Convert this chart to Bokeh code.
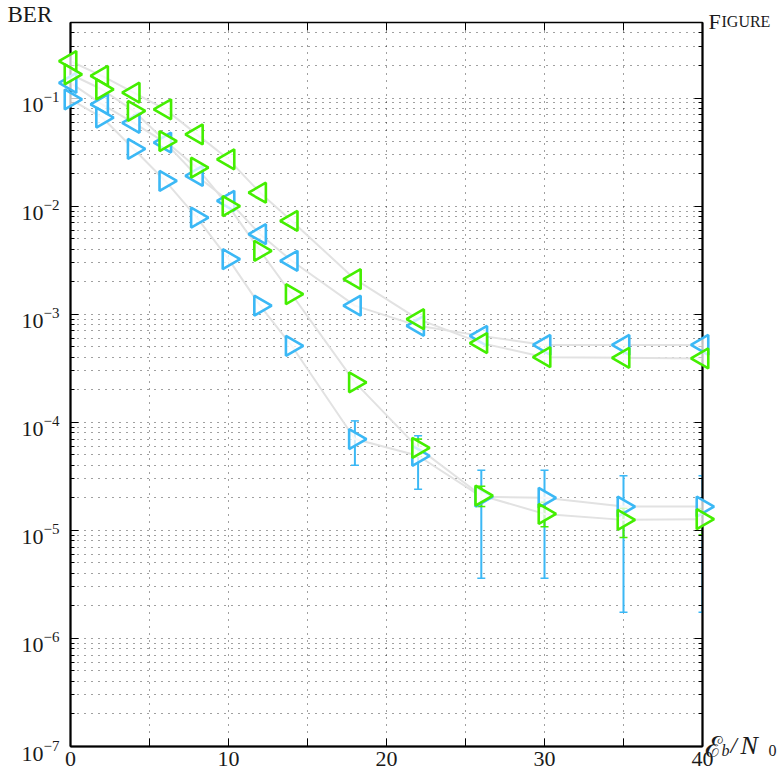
import numpy as np
from bokeh.plotting import figure
from bokeh.core.properties import value
from bokeh.models import (FixedTicker, CustomJSTickFormatter, LogAxis, LinearAxis,
                          Whisker, TeeHead, ColumnDataSource, Range1d)
from bokeh.embed import file_html
from bokeh.resources import INLINE

# ---------------- data ----------------
snr = [0, 2, 4, 6, 8, 10, 12, 14, 18, 22, 26, 30, 35, 40]
ber_green_left = [0.22, 0.16, 0.112, 0.0786, 0.0461, 0.0271, 0.0133, 0.0073, 0.00211,
                  9.0e-4, 5.4e-4, 4.0e-4, 3.95e-4, 3.9e-4]
ber_blue_left = [0.138, 0.0875, 0.059, 0.0387, 0.019, 0.0112, 0.0055, 0.00312, 0.0012,
                 7.8e-4, 6.3e-4, 5.2e-4, 5.2e-4, 5.2e-4]
ber_green_right = [0.166, 0.12, 0.076, 0.040, 0.0227, 0.0100, 0.00386, 0.00153, 2.34e-4,
                   5.8e-5, 2.1e-5, 1.42e-5, 1.25e-5, 1.27e-5]
ber_blue_right = [0.097, 0.066, 0.0338, 0.0171, 0.00783, 0.00323, 0.0012, 0.00051, 7.0e-5,
                  4.9e-5, 2.05e-5, 2.0e-5, 1.66e-5, 1.66e-5]

err_blue_x = [18, 22, 26, 30, 35, 40]
err_blue_lower = [4.0e-5, 2.4e-5, 3.6e-6, 3.6e-6, 1.75e-6, 1.75e-6]
err_blue_upper = [1.03e-4, 7.5e-5, 3.6e-5, 3.6e-5, 3.2e-5, 3.2e-5]

err_green_x = [22, 26, 30, 35, 40]
err_green_lower = [4.8e-5, 1.66e-5, 1.08e-5, 8.6e-6, 9.1e-6]
err_green_upper = [7.0e-5, 2.56e-5, 1.82e-5, 1.6e-5, 1.6e-5]

x_ticks = [0, 5, 10, 15, 20, 25, 30, 35, 40]
y_ticks = [1e-7, 1e-6, 1e-5, 1e-4, 1e-3, 1e-2, 1e-1]
y_exponents = ["\u22127", "\u22126", "\u22125", "\u22124", "\u22123", "\u22122", "\u22121"]
y_minor = [m * d for d in y_ticks for m in range(2, 10)]

X_MIN, X_MAX = 0, 40
Y_MIN, Y_MAX = 1e-7, 0.5

GREEN = "#44ee00"
BLUE = "#3bb8f5"
LINE = "#e2e2e2"
FONT = "Liberation Serif"
TXT = "#1a1a1a"

p = figure(width=779, height=776, x_range=Range1d(X_MIN, X_MAX), y_range=Range1d(Y_MIN, Y_MAX),
           y_axis_type="log", output_backend="svg", toolbar_location=None,
           min_border_left=70, min_border_right=77, min_border_top=22, min_border_bottom=30)
p.outline_line_color = "black"
p.outline_line_width = 1.5

xt = FixedTicker(ticks=x_ticks)
yt = FixedTicker(ticks=y_ticks, minor_ticks=y_minor)

xfmt = CustomJSTickFormatter(code="return (Math.round(tick) % 10 == 0) ? tick.toFixed(0) : '';")
blank = CustomJSTickFormatter(code="return '';")

xa = p.xaxis[0]
xa.ticker = xt
xa.formatter = xfmt
ya = p.yaxis[0]
ya.ticker = yt
ya.formatter = blank
for ax in (xa, ya):
    ax.axis_line_width = 2
    ax.axis_line_color = "black"
    ax.major_tick_in = 8
    ax.major_tick_out = 0
    ax.minor_tick_in = 4
    ax.minor_tick_out = 0
    ax.major_tick_line_color = "black"
    ax.minor_tick_line_color = "black"
    ax.major_label_text_font = FONT
    ax.major_label_text_font_size = "22px"
    ax.major_label_text_color = TXT
    ax.major_label_standoff = 5
xa.minor_tick_line_color = None
ya.major_label_text_font_size = "1px"

top = LinearAxis(ticker=xt, formatter=blank, major_tick_in=8, major_tick_out=0,
                 minor_tick_line_color=None, axis_line_color="black",
                 major_label_text_font_size="1px")
right = LogAxis(ticker=yt, formatter=blank, major_tick_in=8, major_tick_out=0,
                minor_tick_in=4, minor_tick_out=0, axis_line_color="black", axis_line_width=2,
                major_label_text_font_size="1px")
p.add_layout(top, "above")
p.add_layout(right, "right")

p.xgrid.ticker = xt
p.ygrid.ticker = yt
for g in (p.xgrid[0], p.ygrid[0]):
    g.grid_line_color = "black"
    g.grid_line_alpha = 0.75
    g.grid_line_dash = "1 6"
    g.grid_line_width = 1
p.ygrid[0].minor_grid_line_color = "black"
p.ygrid[0].minor_grid_line_alpha = 0.75
p.ygrid[0].minor_grid_line_dash = "1 6"

src = ColumnDataSource(dict(x=snr, gl=ber_green_left, bl=ber_blue_left,
                            gr=ber_green_right, br=ber_blue_right))
for col in ("bl", "br", "gl", "gr"):
    p.line("x", col, source=src, line_color=LINE, line_width=2)

eb = ColumnDataSource(dict(x=err_blue_x, lo=err_blue_lower, hi=err_blue_upper))
eg = ColumnDataSource(dict(x=err_green_x, lo=err_green_lower, hi=err_green_upper))
for s, c in ((eb, BLUE), (eg, GREEN)):
    w = Whisker(source=s, base="x", lower="lo", upper="hi", dimension="height",
                line_color=c, line_width=2,
                lower_head=TeeHead(size=8, line_color=c, line_width=1.5),
                upper_head=TeeHead(size=8, line_color=c, line_width=1.5))
    p.add_layout(w)

for col, c, ang in (("bl", BLUE, np.pi / 2), ("br", BLUE, -np.pi / 2),
                    ("gl", GREEN, np.pi / 2), ("gr", GREEN, -np.pi / 2)):
    r = p.scatter("x", col, source=src, marker="triangle", size=20, angle=ang,
                  line_color=c, line_width=2.6, fill_color="white", fill_alpha=0.75)
    r.level = "overlay"

# y tick labels: "10" with raised exponent
n = len(y_ticks)
r = p.text(x=[X_MIN] * n, y=y_ticks, text=["10"] * n, x_offset=-27, y_offset=7,
           text_align="right", text_baseline="middle", text_font=value(FONT),
           text_font_size="22px", text_color=TXT)
r.level = "overlay"
r = p.text(x=[X_MIN] * n, y=y_ticks, text=y_exponents, x_offset=-27, y_offset=-1,
           text_align="left", text_baseline="middle", text_font=value(FONT),
           text_font_size="15px", text_color=TXT)
r.level = "overlay"

def lab(txt, x, y, dx, dy, size, style="normal", font=FONT):
    rr = p.text(x=[x], y=[y], text=[txt], x_offset=dx, y_offset=dy, text_align="left",
                text_baseline="alphabetic", text_font=value(font), text_font_size=size,
                text_font_style=style, text_color=TXT)
    rr.level = "overlay"

lab("BER", X_MIN, Y_MAX, -63, -8, "23px")
lab("F", X_MAX, Y_MAX, 6, -1, "22px")
lab("IGURE", X_MAX, Y_MAX, 19, -1, "16px")
lab("\u2130", X_MAX, Y_MIN, 2, 0, "29px", "normal", "DejaVu Serif")
lab("b", X_MAX, Y_MIN, 19, 4, "16px", "italic")
lab("/", X_MAX, Y_MIN, 28, -1, "23px", "italic")
lab("N", X_MAX, Y_MIN, 38, -1, "26px", "italic")
lab("0", X_MAX, Y_MIN, 66, 4, "16px")

open("out.html", "w", encoding="utf-8").write(file_html(p, INLINE))
